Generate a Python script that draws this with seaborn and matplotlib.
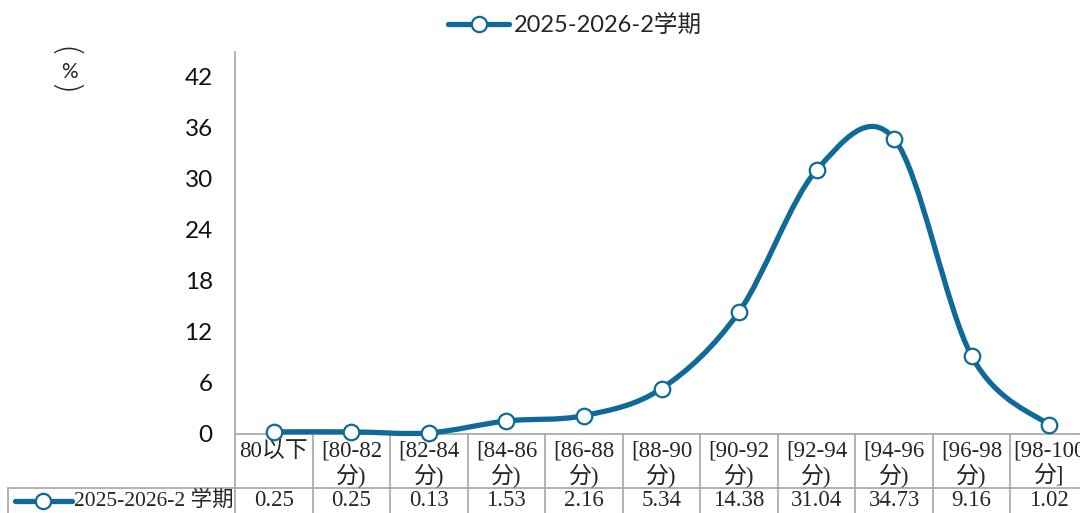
import matplotlib.pyplot as plt
import matplotlib.transforms as mtransforms
from matplotlib.path import Path
from matplotlib.patches import PathPatch
from matplotlib.lines import Line2D
import seaborn as sns
import pandas as pd
import numpy as np

# data
categories = ['80以下', '[80-82\n分)', '[82-84\n分)', '[84-86\n分)', '[86-88\n分)', '[88-90\n分)',
              '[90-92\n分)', '[92-94\n分)', '[94-96\n分)', '[96-98\n分)', '[98-100\n分]']
values = [0.25, 0.25, 0.13, 1.53, 2.16, 5.34, 14.38, 31.04, 34.73, 9.16, 1.02]
value_labels = ['0.25', '0.25', '0.13', '1.53', '2.16', '5.34', '14.38', '31.04', '34.73', '9.16', '1.02']
series_name = '2025-2026-2学期'
row_label = '2025-2026-2 学期'
y_ticks = [0, 6, 12, 18, 24, 30, 36, 42]

BLUE = '#0f6a9a'
GRID = '#a6a6a6'
W, H = 1080, 513

sns.set_style('white')
plt.rcParams['font.family'] = ['Lato', 'Noto Sans CJK SC', 'DejaVu Sans']
serif = ['Liberation Serif', 'Noto Sans CJK SC']

df = pd.DataFrame({'x': np.arange(len(values)), 'y': values})

fig = plt.figure(figsize=(W / 100, H / 100), dpi=100)
ax = fig.add_axes([235 / W, 1 - 434 / H, 853 / W, (434 - 52) / H])
ax.set_xlim(-0.5, len(values) - 0.5)
ax.set_ylim(0, 42 * (434 - 52) / (434 - 77))


def fy(px):
    return 1 - px / H


# smoothed line (cardinal spline like the office chart smoothing)
pts = df[['x', 'y']].to_numpy()
verts = [tuple(pts[0])]
codes = [Path.MOVETO]
n = len(pts)
for i in range(n - 1):
    p0 = pts[max(i - 1, 0)]
    p1 = pts[i]
    p2 = pts[i + 1]
    p3 = pts[min(i + 2, n - 1)]
    c1 = p1 + (p2 - p0) / 6
    c2 = p2 - (p3 - p1) / 6
    verts += [tuple(c1), tuple(c2), tuple(p2)]
    codes += [Path.CURVE4] * 3
ax.add_patch(PathPatch(Path(verts, codes), fill=False, edgecolor=BLUE, lw=3.8,
                       capstyle='round', joinstyle='round', zorder=3, clip_on=False))

sns.scatterplot(data=df, x='x', y='y', ax=ax, s=125, color='white', edgecolor=BLUE,
                linewidth=1.6, zorder=4, clip_on=False, legend=False)

# axes styling
for s in ['top', 'right']:
    ax.spines[s].set_visible(False)
for s in ['left', 'bottom']:
    ax.spines[s].set_color(GRID)
    ax.spines[s].set_linewidth(1.2)
ax.set_yticks(y_ticks)
ax.set_xticks([])
ax.tick_params(axis='y', direction='in', length=6, width=1.2, color=GRID,
               labelsize=17.5, pad=16, labelcolor='#111111')
ax.set_xlabel('')
ax.set_ylabel('')

# data table under the axis
tr = mtransforms.blended_transform_factory(ax.transData, fig.transFigure)
for b in np.arange(len(values) + 1) - 0.5:
    ax.add_line(Line2D([b, b], [fy(434), fy(520)], transform=tr, color=GRID, lw=1.2, clip_on=False))
ax.add_line(Line2D([-0.5, len(values) - 0.5], [fy(488), fy(488)], transform=tr, color=GRID, lw=1.2,
                   clip_on=False))
fig.add_artist(Line2D([8 / W, 235 / W], [fy(488), fy(488)], color=GRID, lw=1.2))
fig.add_artist(Line2D([8 / W, 8 / W], [fy(488), fy(520)], color=GRID, lw=1.2))

for i, (c, v) in enumerate(zip(categories, value_labels)):
    ax.text(i, fy(441), c, transform=tr, ha='center', va='top', fontsize=16.5,
            family=serif, linespacing=1.1)
    ax.text(i, fy(501), v, transform=tr, ha='center', va='center', fontsize=16.5, family=serif)

# row label with legend key
fig.add_artist(Line2D([15 / W, 72 / W], [fy(501), fy(501)], color=BLUE, lw=3.8,
                      solid_capstyle='round'))
fig.add_artist(Line2D([43 / W], [fy(501)], marker='o', ms=11, mfc='white', mec=BLUE, mew=1.6))
fig.text(233 / W, fy(501), row_label, ha='right', va='center', fontsize=15.5, family=serif)

# legend on top
handle = Line2D([], [], color=BLUE, lw=3.8, marker='o', ms=11, mfc='white', mec=BLUE, mew=1.6,
                solid_capstyle='round')
fig.legend([handle], [series_name], loc='center', bbox_to_anchor=(575 / W, fy(25)),
           frameon=False, fontsize=17, handlelength=2.6, handletextpad=0.2)

# vertical unit label
fig.text(63 / W, fy(52), '(', rotation=-90, ha='center', va='center', fontsize=24,
         family='DejaVu Sans', fontweight='light')
fig.text(69 / W, fy(72), '%', ha='center', va='center', fontsize=15)
fig.text(63 / W, fy(90), ')', rotation=-90, ha='center', va='center', fontsize=24,
         family='DejaVu Sans', fontweight='light')

fig.savefig('out.png', dpi=100)
